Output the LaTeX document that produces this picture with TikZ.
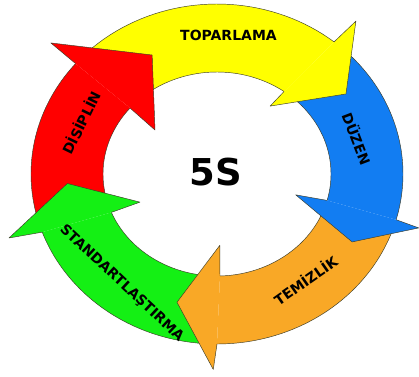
\documentclass[tikz,border=0pt]{standalone}
\usepackage{fontspec}
\setmainfont{DejaVu Sans}
\definecolor{cRed}{RGB}{255,0,0}
\definecolor{cYellow}{RGB}{255,255,0}
\definecolor{cBlue}{RGB}{18,125,242}
\definecolor{cOrange}{RGB}{249,168,38}
\definecolor{cGreen}{RGB}{20,240,20}
\definecolor{cEdge}{RGB}{60,60,40}
% outer ellipse: rx 186, ry 170 ; inner: rx 114, ry 102 ; mid: rx 150, ry 136 ; centre (217,174)
\newcommand\ArrBody[4]{% colour, tail, outer notch, inner notch
  \fill[#1] plot[domain=#2:#3,samples=40] ({217+186*cos(\x)},{174+170*sin(\x)})
    -- plot[domain=#2:#4,samples=40] ({217+114*cos(#4+#2-\x)},{174+102*sin(#4+#2-\x)}) -- cycle;
  \draw[edgeline] plot[domain=#2:#3,samples=40] ({217+186*cos(\x)},{174+170*sin(\x)});
  \draw[edgeline] plot[domain=#2:#4,samples=40] ({217+114*cos(\x)},{174+102*sin(\x)});
}
\newcommand\ArrHead[9]{% colour, outer notch, inner notch, obarb ang, obarb f, ibarb ang, ibarb f, apex ang, apex f
  \fill[#1] ({217+186*cos(#2)},{174+170*sin(#2)})
    -- ({217+#5*186*cos(#4)},{174+#5*170*sin(#4)})
    -- ({217+#9*150*cos(#8)},{174+#9*136*sin(#8)})
    -- ({217+#7*114*cos(#6)},{174+#7*102*sin(#6)})
    -- ({217+114*cos(#3)},{174+102*sin(#3)}) -- cycle;
  \draw[edgeline] ({217+186*cos(#2)},{174+170*sin(#2)})
    -- ({217+#5*186*cos(#4)},{174+#5*170*sin(#4)})
    -- ({217+#9*150*cos(#8)},{174+#9*136*sin(#8)})
    -- ({217+#7*114*cos(#6)},{174+#7*102*sin(#6)})
    -- ({217+114*cos(#3)},{174+102*sin(#3)});
}
\begin{document}
\begin{tikzpicture}[x=1pt,y=-1pt,
  edgeline/.style={draw=cEdge,line width=0.45pt,line join=round},
  lbl/.style={font=\bfseries\fontsize{14}{14}\selectfont,inner sep=0pt,text height=10.2pt,text depth=0pt,anchor=center}]
\useasboundingbox[fill=white] (0,0) rectangle (419,376);
% bodies
\ArrBody{cRed}{163}{220.5}{220.3}
\ArrBody{cYellow}{224}{309}{306}
\ArrBody{cBlue}{310}{375.6}{375}
\ArrBody{cOrange}{18}{90}{88.5}
\ArrBody{cGreen}{93}{160}{157.9}
% heads
\ArrHead{cRed}{220.5}{220.3}{220.8}{1.18}{218.4}{0.694}{243.7}{0.976}
\ArrHead{cYellow}{309}{306}{309.7}{1.169}{305}{0.813}{325.6}{1.042}
\ArrHead{cBlue}{375.6}{375}{376.3}{1.13}{376.5}{0.72}{389}{1.03}
\ArrHead{cOrange}{90}{88.5}{91}{1.15}{88}{0.70}{105.8}{0.98}
\ArrHead{cGreen}{160}{157.9}{161.4}{1.18}{157.8}{0.73}{176}{1.0}
% labels
\node[lbl] (toparlama) at (228.5,35.5) {TOPARLAMA};
\node[lbl,rotate=-69] (duzen) at (356,139) {DÜZEN};
\node[lbl,rotate=35] (temizlik) at (306,281) {TEMİZLİK};
\node[lbl,rotate=-43] (standart) at (122.5,282.5) {STANDARTLAŞTIRMA};
\node[lbl,rotate=64] (disiplin) at (82,123) {DİSİPLİN};
\node[font=\bfseries\fontsize{37}{37}\selectfont,inner sep=0pt,text height=27pt,text depth=0pt] (fives) at (215.5,171.5) {5S};
\end{tikzpicture}
\end{document}
